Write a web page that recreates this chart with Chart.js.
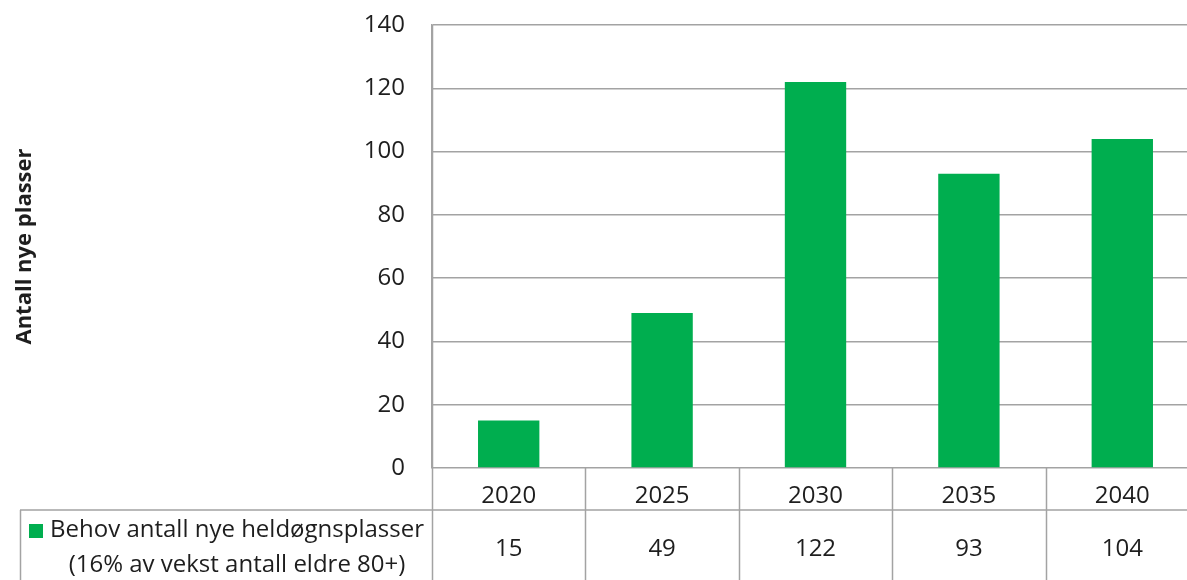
<!DOCTYPE html>
<html>
<head>
<meta charset="utf-8">
<script src="https://cdn.jsdelivr.net/npm/chart.js@4.4.1/dist/chart.umd.min.js"></script>
<style>
    html, body { margin: 0; padding: 0; background: #fff; overflow: hidden; }
    #wrap { width: 1200px; height: 580px; }
</style>
</head>
<body>
<div id="wrap"><canvas id="chart"></canvas></div>
<script>
const years = ['2020', '2025', '2030', '2035', '2040'];
const needValues = [15, 49, 122, 93, 104];
const seriesLabel = ['Behov antall nye heldøgnsplasser', '(16% av vekst antall eldre 80+)'];
const yTitle = 'Antall nye plasser';

const green = '#00AE4F';
const lineColor = '#a3a3a3';
const textColor = '#1e1e1e';
const fontFamily = "'Open Sans', sans-serif";

// draws the data table under the plot (Excel style)
const dataTable = {
    id: 'dataTable',
    afterDraw(chart) {
        const { ctx, chartArea, scales } = chart;
        const x = scales.x;
        const bottom = chart.height;
        const headBottom = chartArea.bottom + 42;
        const step = x.getPixelForValue(1) - x.getPixelForValue(0);

        ctx.save();
        ctx.strokeStyle = lineColor;
        ctx.lineWidth = 1.5;
        ctx.beginPath();
        for (let i = 0; i <= years.length; i++) {
            const px = Math.round(x.getPixelForValue(i) - step / 2) + 0.5;
            ctx.moveTo(px, i === 0 ? chartArea.top : chartArea.bottom);
            ctx.lineTo(px, bottom);
        }
        ctx.moveTo(20, headBottom);
        ctx.lineTo(chart.width, headBottom);
        ctx.moveTo(20.5, headBottom);
        ctx.lineTo(20.5, bottom);
        ctx.stroke();

        ctx.fillStyle = textColor;
        ctx.font = '24px ' + fontFamily;
        ctx.textAlign = 'center';
        ctx.textBaseline = 'middle';
        needValues.forEach((v, i) => {
            ctx.fillText(String(v), x.getPixelForValue(i), headBottom + 39);
        });

        ctx.fillStyle = green;
        ctx.fillRect(29, headBottom + 14, 14, 14);
        ctx.fillStyle = textColor;
        ctx.fillText(seriesLabel[0], 237, headBottom + 20);
        ctx.fillText(seriesLabel[1], 237, headBottom + 55);
        ctx.restore();
    }
};

new Chart(document.getElementById('chart'), {
    type: 'bar',
    data: {
        labels: years,
        datasets: [{
            label: seriesLabel.join(' '),
            data: needValues,
            backgroundColor: green,
            barPercentage: 0.4,
            categoryPercentage: 1
        }]
    },
    options: {
        responsive: true,
        maintainAspectRatio: false,
        animation: false,
        layout: { padding: { top: 25, bottom: 70, left: 0, right: 1 } },
        plugins: {
            legend: { display: false },
            tooltip: { enabled: false }
        },
        scales: {
            x: {
                grid: { display: false },
                border: { display: false },
                ticks: {
                    color: textColor,
                    font: { family: fontFamily, size: 24 },
                    padding: 6,
                    maxRotation: 0
                },
                afterFit(axis) {
                    axis.height = 42;
                    axis.paddingLeft = 0;
                    axis.paddingRight = 0;
                }
            },
            y: {
                min: 0,
                max: 140,
                grid: { color: lineColor, lineWidth: 1.5, drawTicks: false },
                border: { display: true, color: lineColor, width: 1.5 },
                ticks: {
                    stepSize: 20,
                    color: textColor,
                    font: { family: fontFamily, size: 24 },
                    padding: 27
                },
                title: {
                    display: true,
                    text: yTitle,
                    color: textColor,
                    font: { family: fontFamily, size: 22, weight: 'bold' },
                    padding: { top: 12 }
                },
                afterFit(axis) {
                    axis.width = 432;
                    axis.paddingTop = 0;
                    axis.paddingBottom = 0;
                }
            }
        }
    },
    plugins: [dataTable]
});
</script>
</body>
</html>
